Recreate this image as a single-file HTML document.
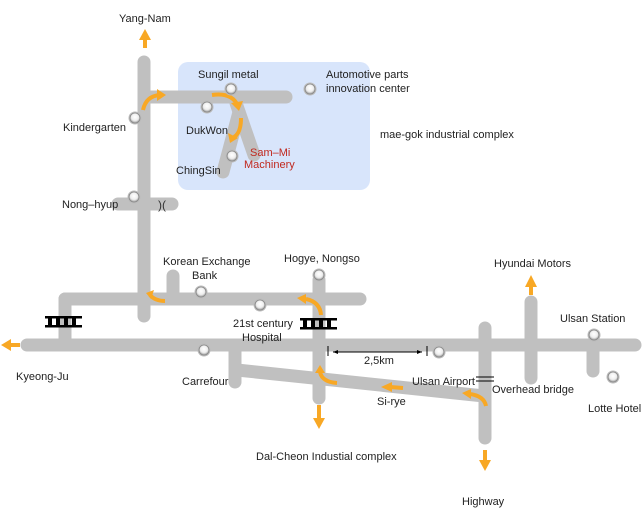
<!DOCTYPE html>
<html><head><style>
body{margin:0;background:#fff;}
svg{display:block;font-family:"Liberation Sans",sans-serif;}
text{font-size:11px;fill:#222;}
</style></head><body>
<svg width="643" height="509" viewBox="0 0 643 509">
<defs>
<radialGradient id="cg" cx="50%" cy="40%" r="60%"><stop offset="0" stop-color="#fff"/><stop offset="0.6" stop-color="#eee"/><stop offset="1" stop-color="#999"/></radialGradient>
<g id="c"><circle r="6.5" fill="#bbb"/><circle r="5" fill="url(#cg)" stroke="#888" stroke-width="0.8"/></g>
</defs>
<rect x="178" y="62" width="192" height="128" rx="10" fill="#d8e5fb"/>
<g stroke="#c0c0c0" stroke-width="13" stroke-linecap="round" fill="none">
<line x1="144" y1="62" x2="144" y2="316"/>
<line x1="150" y1="97" x2="286" y2="97"/>
<line x1="236" y1="103" x2="254" y2="155"/>
<line x1="239" y1="112" x2="223" y2="172"/>
<line x1="118" y1="204" x2="172" y2="204"/>
<line x1="65" y1="299" x2="360" y2="299"/>
<line x1="65" y1="299" x2="65" y2="345"/>
<line x1="173" y1="276" x2="173" y2="299"/>
<line x1="27" y1="345" x2="635" y2="345"/>
<line x1="319" y1="280" x2="319" y2="398"/>
<line x1="235" y1="345" x2="235" y2="382"/>
<line x1="237" y1="370" x2="484" y2="396"/>
<line x1="485" y1="328" x2="485" y2="438"/>
<line x1="531" y1="302" x2="531" y2="378"/>
<line x1="593" y1="345" x2="593" y2="371"/>
</g>
<!-- break marks at Nong-hyup -->
<text x="158" y="209" style="font-size:12px;fill:#333">)(</text>
<!-- rails -->
<g fill="#000">
<rect x="45" y="316" width="37" height="2.5"/><rect x="45" y="325" width="37" height="2.5"/>
<rect x="48" y="316" width="4" height="11"/><rect x="56" y="316" width="4" height="11"/><rect x="64" y="316" width="4" height="11"/><rect x="72" y="316" width="4" height="11"/>
<rect x="300" y="318" width="37" height="2.5"/><rect x="300" y="327" width="37" height="2.5"/>
<rect x="303" y="318" width="4" height="11"/><rect x="311" y="318" width="4" height="11"/><rect x="319" y="318" width="4" height="11"/><rect x="327" y="318" width="4" height="11"/>
</g>
<!-- orange arrows -->
<g stroke="#f8a825" stroke-width="4" fill="none">
<line x1="145" y1="48" x2="145" y2="38"/>
<path d="M143 110 Q146 96 160 95"/>
<path d="M212 95 Q232 92 238 106"/>
<path d="M241 118 Q241 133 234 137"/>
<path d="M165 301 Q155 301 150 295"/>
<path d="M321 315 Q320 302 306 299"/>
<path d="M337 383 Q322 382 320 372"/>
<path d="M486 406 Q484 396 470 394"/>
<line x1="20" y1="345" x2="10" y2="345"/>
<line x1="319" y1="405" x2="319" y2="420"/>
<line x1="485" y1="450" x2="485" y2="462"/>
<line x1="531" y1="295" x2="531" y2="285"/>
<line x1="403" y1="388" x2="390" y2="387"/>
</g>
<g fill="#f8a825">
<path d="M139 40 L145 29 L151 40Z"/>
<path d="M157 89 L166 95 L157 101Z"/>
<path d="M231 103 L239 111 L243 101Z"/>
<path d="M228 133 L230 143 L238 138Z"/>
<path d="M154 290 L146 293 L151 299Z"/>
<path d="M306 294 L297 298 L306 304Z"/>
<path d="M315 373 L320 365 L325 373Z"/>
<path d="M471 389 L462 393 L471 399Z"/>
<path d="M11 339 L1 345 L11 351Z"/>
<path d="M313 418 L319 429 L325 418Z"/>
<path d="M479 460 L485 471 L491 460Z"/>
<path d="M525 287 L531 275 L537 287Z"/>
<path d="M392 382 L381 387 L392 392Z"/>
</g>
<!-- scale -->
<g stroke="#000" stroke-width="1">
<line x1="328" y1="346" x2="328" y2="356"/><line x1="427" y1="346" x2="427" y2="356"/>
<line x1="333" y1="352" x2="422" y2="352"/>
</g>
<path d="M333 352 l5 -2 v4z M422 352 l-5 -2 v4z" fill="#000"/>
<line x1="476" y1="377" x2="494" y2="377" stroke="#000"/><line x1="476" y1="381" x2="494" y2="381" stroke="#000"/>
<!-- circles -->
<use href="#c" x="135" y="118"/><use href="#c" x="134" y="197"/><use href="#c" x="231" y="89"/><use href="#c" x="207" y="107"/><use href="#c" x="232" y="156"/><use href="#c" x="310" y="89"/><use href="#c" x="201" y="292"/><use href="#c" x="260" y="305"/><use href="#c" x="319" y="275"/><use href="#c" x="204" y="350"/><use href="#c" x="439" y="352"/><use href="#c" x="594" y="335"/><use href="#c" x="613" y="377"/>
<!-- labels -->
<text x="119" y="22">Yang-Nam</text>
<text x="198" y="78">Sungil metal</text>
<text x="326" y="78">Automotive parts</text>
<text x="326" y="92">innovation center</text>
<text x="63" y="131">Kindergarten</text>
<text x="186" y="134">DukWon</text>
<text x="250" y="156" style="fill:#c0281e">Sam–Mi</text>
<text x="244" y="168" style="fill:#c0281e">Machinery</text>
<text x="176" y="174">ChingSin</text>
<text x="380" y="138">mae-gok industrial complex</text>
<text x="62" y="208">Nong–hyup</text>
<text x="163" y="265">Korean Exchange</text>
<text x="192" y="279">Bank</text>
<text x="284" y="262">Hogye, Nongso</text>
<text x="494" y="267">Hyundai Motors</text>
<text x="560" y="322">Ulsan Station</text>
<text x="233" y="327">21st century</text>
<text x="242" y="341">Hospital</text>
<text x="16" y="380">Kyeong-Ju</text>
<text x="182" y="385">Carrefour</text>
<text x="364" y="364">2,5km</text>
<text x="412" y="385">Ulsan Airport</text>
<text x="492" y="393">Overhead bridge</text>
<text x="377" y="405">Si-rye</text>
<text x="588" y="412">Lotte Hotel</text>
<text x="256" y="460">Dal-Cheon Industial complex</text>
<text x="462" y="505">Highway</text>
</svg>
</body></html>
